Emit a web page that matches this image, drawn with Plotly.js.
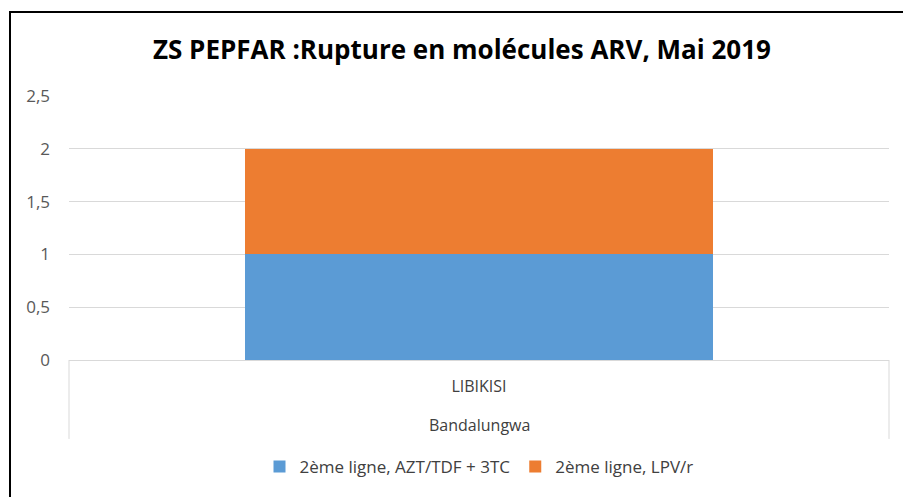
<!DOCTYPE html>
<html><head><meta charset="utf-8">
<script src="https://cdn.plot.ly/plotly-3.0.1.min.js"></script>
<style>
html,body{margin:0;padding:0;background:#fff;}
#chart{position:absolute;left:0;top:0;width:903px;height:497px;}
#frame{position:absolute;left:9px;top:11px;width:900px;height:490px;border-left:2px solid #000;border-top:2px solid #000;pointer-events:none;}
</style></head>
<body>
<div id="chart"></div><div id="frame"></div>
<script>
const districts = ["Bandalungwa"];
const sites = ["LIBIKISI"];
const seriesNames = ["2ème ligne, AZT/TDF + 3TC", "2ème ligne, LPV/r"];
const azt = [1];
const lpv = [1];
const colors = ["#5B9BD5", "#ED7D31"];
const yTicks = [0, 0.5, 1, 1.5, 2, 2.5];

const font = "Open Sans, sans-serif";
const traces = [azt, lpv].map((vals, i) => ({
  type: "bar", name: seriesNames[i], x: sites, y: vals,
  marker: {color: colors[i]}, hoverinfo: "none"
}));

const layout = {
  width: 903, height: 497, barmode: "stack", bargap: 0.43,
  separators: ",.",
  margin: {l: 69, r: 14, t: 96, b: 137},
  paper_bgcolor: "#fff", plot_bgcolor: "#fff",
  font: {family: font, color: "#595959", size: 16},
  title: {text: "<b>ZS PEPFAR :Rupture en molécules ARV, Mai 2019</b>", font: {family: font, size: 26, color: "#000"},
    x: 0.5116, xref: "container", xanchor: "center", y: 0.899, yref: "container", yanchor: "middle"},
  xaxis: {type: "category", showline: true, linecolor: "#d9d9d9", linewidth: 1, ticks: "",
    ticklabelstandoff: 12, tickfont: {family: font, size: 16, color: "#404040"}},
  yaxis: {range: [0, 2.5], tickvals: yTicks, showgrid: true, gridcolor: "#d9d9d9", zeroline: false,
    ticks: "", ticklabelstandoff: 18, tickfont: {family: font, size: 17, color: "#595959"}},
  annotations: districts.map(d => ({text: d, xref: "paper", yref: "paper", x: 0.5, y: -0.246,
    xanchor: "center", yanchor: "middle", showarrow: false, font: {family: font, size: 16, color: "#404040"}})),
  shapes: [0, 1].map(px => ({type: "line", xref: "paper", yref: "paper", x0: px, x1: px, y0: 0, y1: -0.299,
    line: {color: "#d9d9d9", width: 1}})),
  showlegend: true,
  legend: {orientation: "h", x: 0.5, xanchor: "center", y: -0.405, yanchor: "middle",
    font: {family: font, size: 17, color: "#404040"}, traceorder: "normal"}
};
Plotly.newPlot("chart", traces, layout, {displayModeBar: false, staticPlot: true});
</script>
</body></html>
